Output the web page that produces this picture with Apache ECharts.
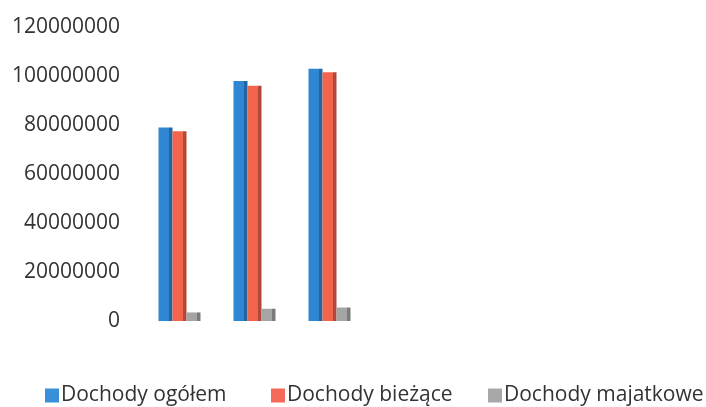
<!DOCTYPE html>
<html><head><meta charset="utf-8">
<script src="https://cdn.jsdelivr.net/npm/echarts@6/dist/echarts.min.js"></script>
<style>html,body{margin:0;padding:0;background:#fff}#c{width:706px;height:407px}</style>
</head><body><div id="c"></div>
<script>
const categories = ['2019', '2020', '2021'];
const ogolem = [79000000, 98000000, 103000000];
const biezace = [77500000, 96000000, 101500000];
const majatkowe = [3500000, 5000000, 5500000];
const yTicks = [0, 20000000, 40000000, 60000000, 80000000, 100000000, 120000000];
const seriesNames = ['Dochody ogółem', 'Dochody bieżące', 'Dochody majatkowe'];

function shade(c, d) {
  return { type: 'linear', x: 0, y: 0, x2: 1, y2: 0,
    colorStops: [{offset: 0, color: c}, {offset: 0.72, color: c}, {offset: 0.72, color: d}, {offset: 1, color: d}] };
}
const chart = echarts.init(document.getElementById('c'));
const font = 'Open Sans';
const legendColors = ['#3A8FDA', '#F4695A', '#A8A8A8'];
const legendLefts = [40, 266, 483];
chart.setOption({
  animation: false,
  grid: { left: 142, width: 225, top: 27, bottom: 86 },
  legend: seriesNames.map((n, i) => ({
    top: 380, left: legendLefts[i], itemWidth: 14, itemHeight: 14, icon: 'rect',
    textStyle: { fontFamily: font, fontSize: 21, color: '#333', padding: [0,0,0,-3] },
    data: [{ name: n, itemStyle: { color: legendColors[i] } }]
  })),
  xAxis: { type: 'category', data: categories, axisLine: {show: false}, axisTick: {show: false}, axisLabel: {show: false} },
  yAxis: { type: 'value', min: yTicks[0], max: yTicks[yTicks.length-1], interval: 20000000,
    splitLine: {show: false}, axisLine: {show: false},
    axisLabel: { fontFamily: font, fontSize: 21, color: '#333', margin: 22, formatter: v => String(v) } },
  series: [
    { name: seriesNames[0], type: 'bar', data: ogolem, barGap: '0%', barCategoryGap: '44%',
      itemStyle: { color: shade('#2F86D2', '#22659F') } },
    { name: seriesNames[1], type: 'bar', data: biezace,
      itemStyle: { color: shade('#F2644C', '#B0493A') } },
    { name: seriesNames[2], type: 'bar', data: majatkowe,
      itemStyle: { color: shade('#A5A5A5', '#7A7A7A') } }
  ]
});
</script></body></html>
